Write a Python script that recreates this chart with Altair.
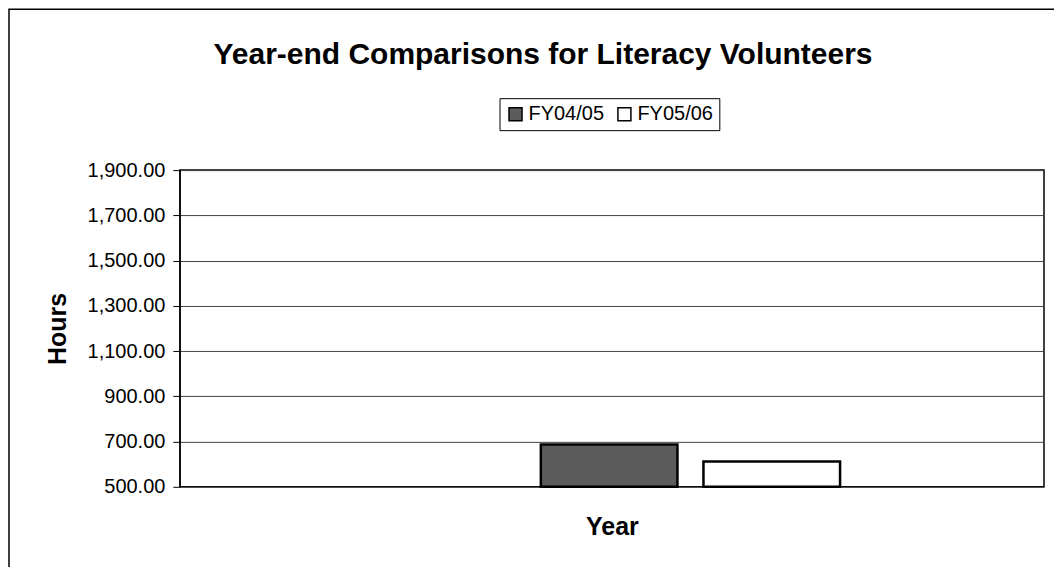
import altair as alt
import pandas as pd

category = ["Year", "Year"]
series = ["FY04/05", "FY05/06"]
hours = [687, 612]
y_ticks = [500, 700, 900, 1100, 1300, 1500, 1700, 1900]

df = pd.DataFrame({"category": category, "series": series, "hours": hours})

FONT = "Liberation Sans"

bars = alt.Chart(df).mark_bar(stroke="black", strokeWidth=2.5).encode(
    x=alt.X(
        "category:N",
        scale=alt.Scale(paddingInner=0, paddingOuter=0.944, align=0.639),
        axis=alt.Axis(title="Year", labels=False, ticks=False, domain=False,
                      grid=False, titleFontSize=25, titleFontWeight="bold",
                      titleFont=FONT, titlePadding=28, titleColor="black"),
    ),
    xOffset=alt.XOffset("series:N", sort=series,
                        scale=alt.Scale(paddingInner=0.16, paddingOuter=0)),
    y=alt.Y(
        "hours:Q",
        scale=alt.Scale(domain=[500, 1900], nice=False, zero=False),
        axis=alt.Axis(title="Hours", values=y_ticks, format=",.2f",
                      labelFontSize=20, labelFont=FONT, labelColor="black",
                      tickSize=7, tickColor="black", tickWidth=1,
                      labelPadding=8, domain=True, domainColor="black",
                      grid=True, gridColor="#444444", gridWidth=1,
                      titleFontSize=25, titleFontWeight="bold", titleFont=FONT,
                      titleColor="black", titlePadding=17),
    ),
    y2=alt.datum(500),
    color=alt.Color(
        "series:N",
        sort=series,
        scale=alt.Scale(domain=series, range=["#5c5c5c", "#ffffff"]),
        legend=alt.Legend(title=None, orient="none", legendX=320, legendY=-72,
                          direction="horizontal", symbolType="square",
                          symbolSize=169, symbolStrokeColor="black",
                          symbolStrokeWidth=1.5, labelFontSize=20,
                          labelFont=FONT, labelColor="black", labelOffset=3,
                          columnPadding=10, padding=6, strokeColor="black",
                          fillColor="white"),
    ),
)

frame = alt.Chart(alt.Data(values=[{"a": 1}])).mark_rect(
    fill=None, stroke="black", strokeWidth=1.5
).encode(
    x=alt.value(-171), x2=alt.value(1100), y=alt.value(-161), y2=alt.value(600)
)

chart = alt.layer(frame, bars).properties(
    width=865,
    height=317,
    title=alt.TitleParams(
        "Year-end Comparisons for Literacy Volunteers",
        fontSize=30, font=FONT, fontWeight="bold", color="black",
        anchor="middle", frame="group", dx=-69, offset=0, dy=86,
        baseline="alphabetic",
    ),
    autosize=alt.AutoSizeParams(type="none"),
    padding={"left": 172, "top": 162, "right": 10, "bottom": 80},
    background="white",
).configure_view(stroke="black", strokeWidth=1.5)

chart.save("out.html", embed_options={"renderer": "svg", "actions": False})
